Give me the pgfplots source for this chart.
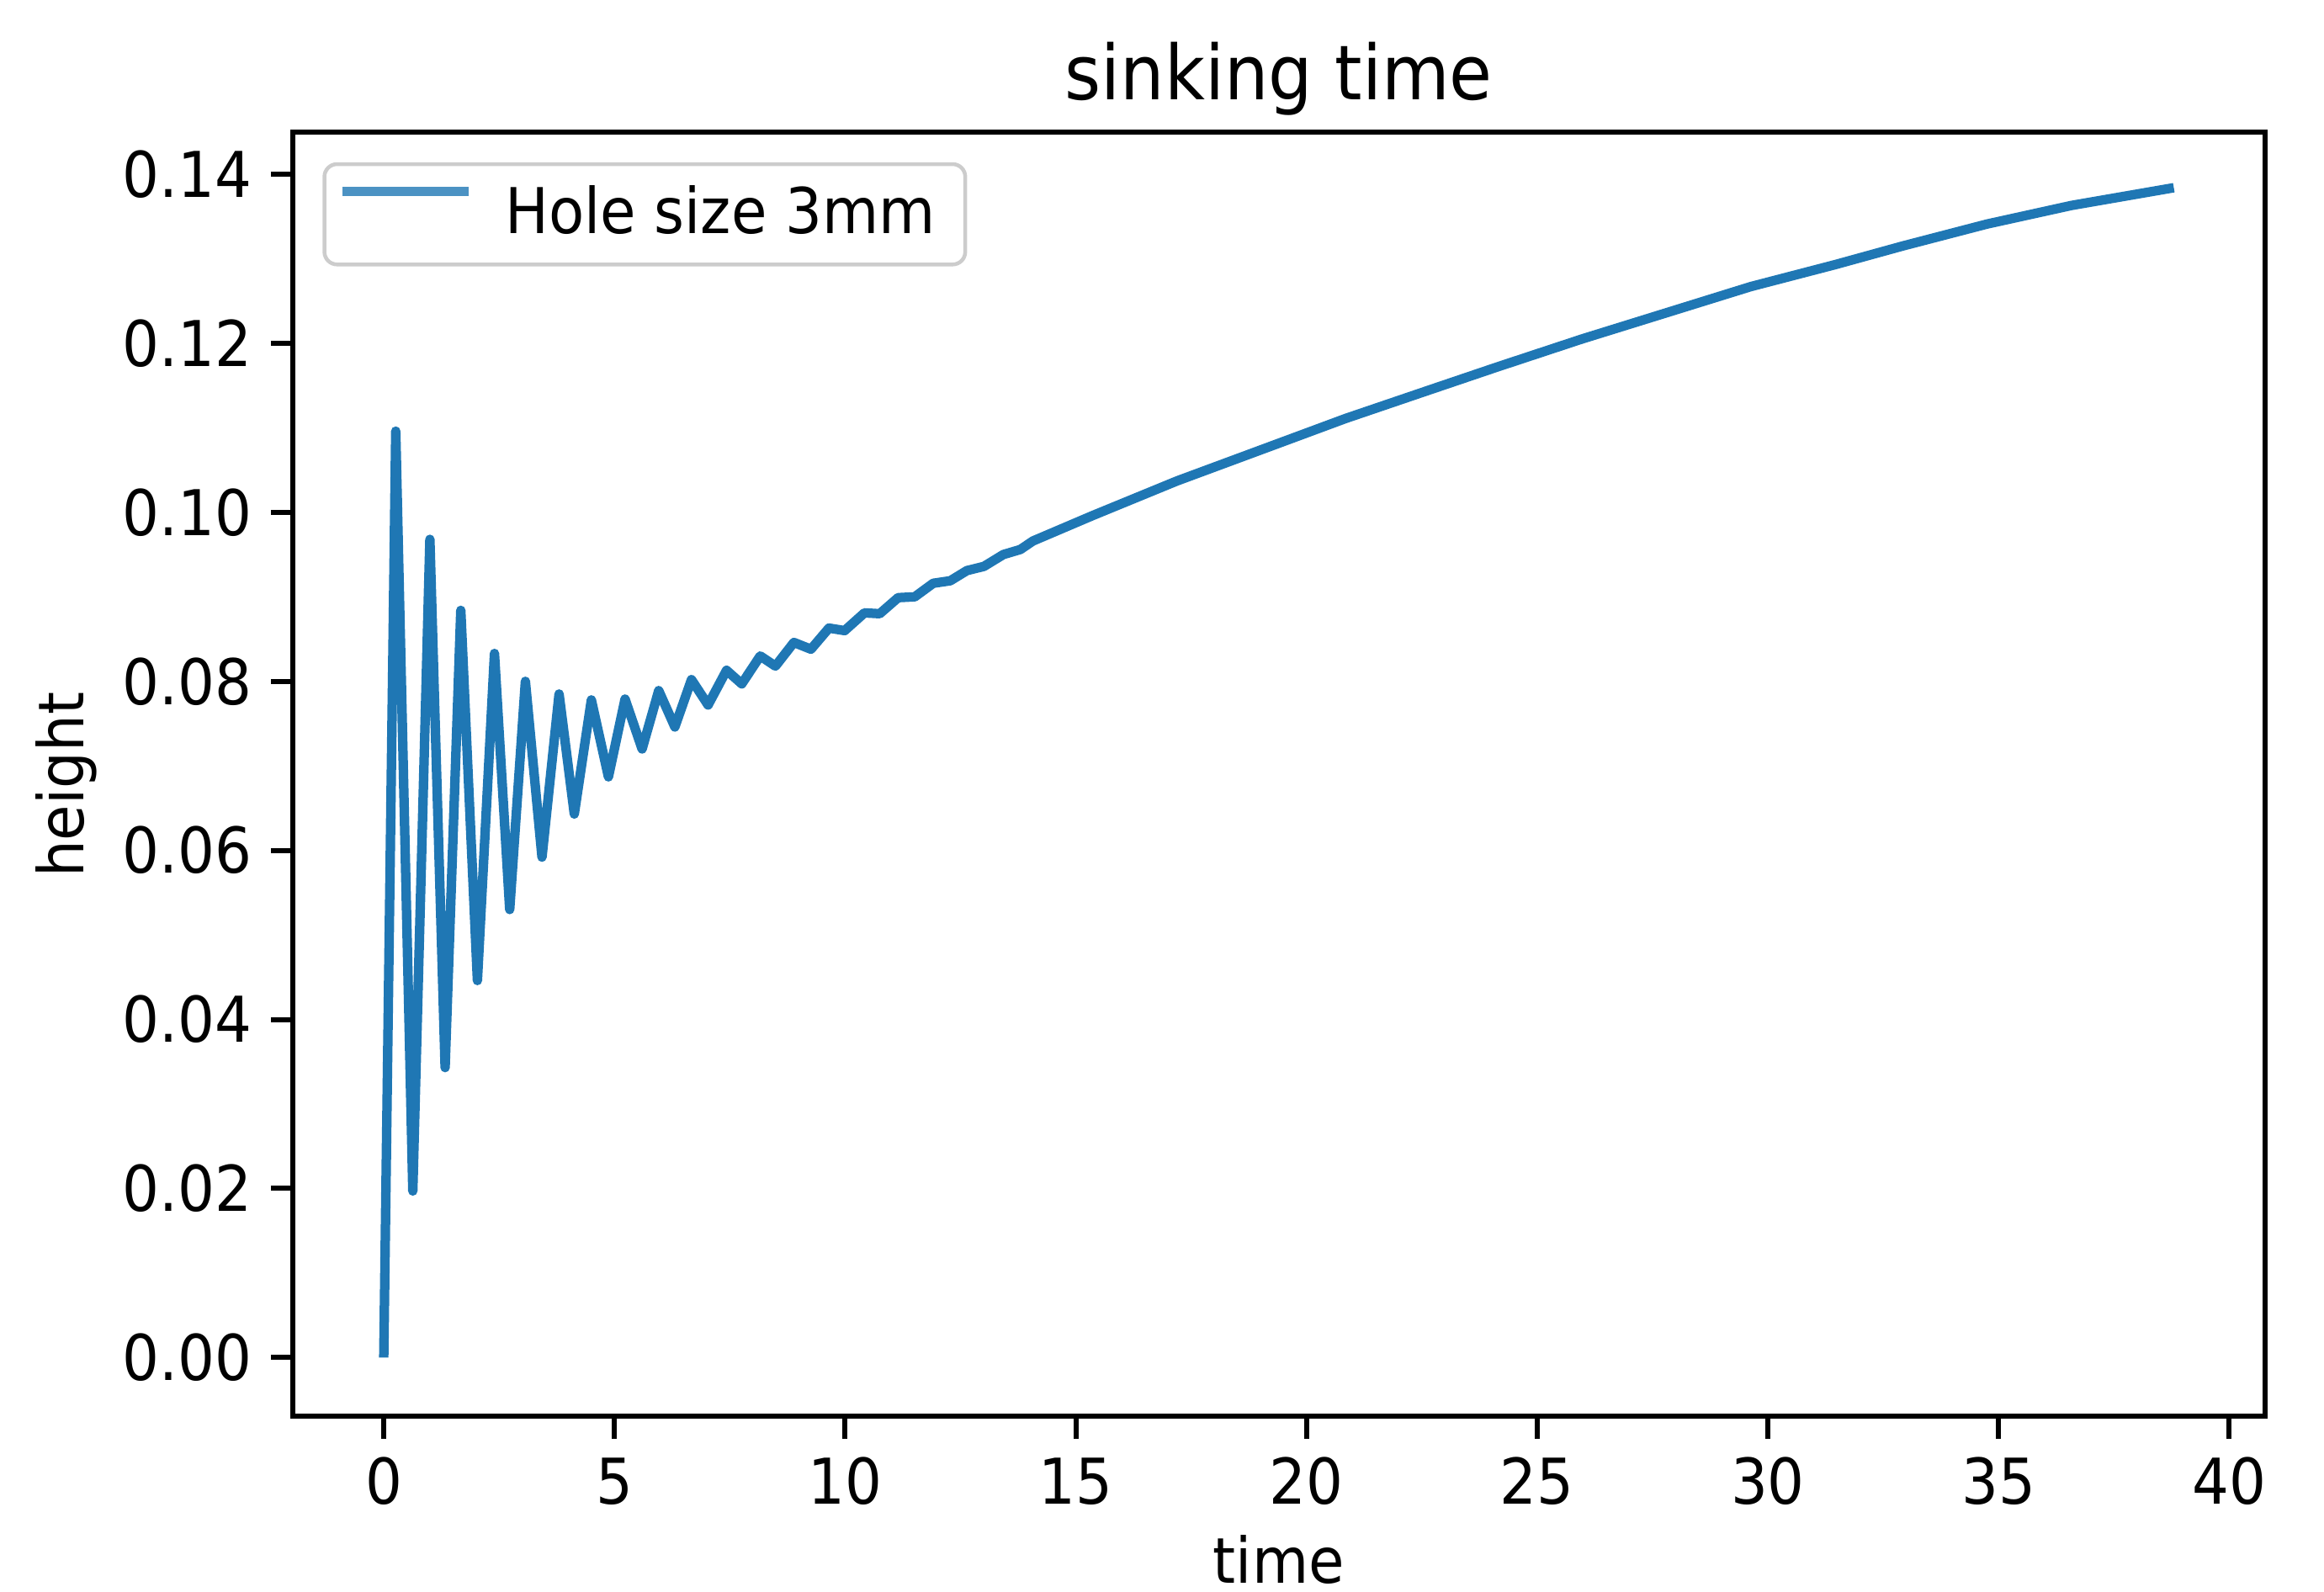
\documentclass[border=0pt]{standalone}
\usepackage{fontspec}
\setmainfont{DejaVu Sans}[FakeStretch=0.92]
\usepackage{pgfplots}
\pgfplotsset{compat=1.18}
\usetikzlibrary{calc}
\definecolor{tabblue}{HTML}{1F77B4}
\begin{document}
\begin{tikzpicture}
\begin{axis}[
  name=ax,
  scale only axis,
  width=312.4pt, height=203.5pt,
  xmin=-1.97, xmax=40.77,
  ymin=-0.00697, ymax=0.1450,
  xtick={0,5,10,15,20,25,30,35,40},
  ytick={0,0.02,0.04,0.06,0.08,0.10,0.12,0.14},
  tick pos=left,
  tick align=outside,
  major tick length=3.5pt,
  tick style={black, line width=0.8pt},
  axis line style={black, line width=0.8pt},
  /pgf/number format/assume math mode=true,
  ticklabel style={font=\fontsize{10}{12}\selectfont},
  xticklabel style={inner sep=0pt, anchor=base, yshift=-10.4pt},
  yticklabel style={inner sep=0pt, anchor=east, xshift=-2.8pt,
    /pgf/number format/.cd, fixed, fixed zerofill, precision=2},
  scaled y ticks=false,
  legend style={
    at={(axis description cs:0,1)}, anchor=north west,
    xshift=4.7pt, yshift=-4.8pt,
    draw=black!20, line width=0.6pt, rounded corners=2pt,
    inner xsep=2.1pt, inner ysep=3.4pt,
    font=\fontsize{10}{12}\selectfont,
    nodes={inner sep=0pt, text depth=1.5pt},
    column sep=5pt
  },
  legend image code/.code={
    \draw[#1, line width=1.5pt, line cap=butt] (0pt,3.65pt) -- (20pt,3.65pt);
  },
  legend image post style={opacity=0.8},
]
\addplot[tabblue, line width=1.5pt, line join=round] coordinates {
  (0,0) (0.26,0.1096) (0.63,0.0197) (1.00,0.0968) (1.33,0.0343)
  (1.67,0.0884) (2.03,0.0446) (2.40,0.0833) (2.73,0.0530) (3.07,0.0800)
  (3.43,0.0592) (3.80,0.0785) (4.13,0.0643) (4.50,0.0778) (4.87,0.0687)
  (5.23,0.0779) (5.60,0.0720) (5.96,0.0789) (6.31,0.0746) (6.67,0.0802)
  (7.03,0.0772) (7.43,0.0813) (7.76,0.0797) (8.16,0.0830) (8.49,0.0818)
  (8.89,0.0846) (9.26,0.0838) (9.65,0.0863) (9.99,0.0860) (10.42,0.0881)
  (10.75,0.0880) (11.15,0.0899) (11.51,0.0900) (11.91,0.0916) (12.28,0.0919)
  (12.64,0.0931) (13.01,0.0936) (13.43,0.0950) (13.80,0.0956) (14.07,0.0966)
  (15.36,0.0996) (17.19,0.1037) (19.02,0.1074) (20.85,0.1111) (22.68,0.1145)
  (24.14,0.1172) (25.97,0.1205) (27.80,0.1236) (29.63,0.1267) (31.46,0.1293)
  (32.92,0.1315) (34.75,0.1341) (36.58,0.1363) (38.80,0.1384)
};
\addlegendentry{Hole size 3mm\kern2.6pt}
\end{axis}
\node[anchor=base, font=\fontsize{12}{14}\selectfont] at ($(ax.north)+(0,5.1pt)$) {sinking time};
\node[anchor=base, font=\fontsize{10}{12}\selectfont] at ($(ax.south)+(0,-26.4pt)$) {time};
\node[rotate=90, anchor=base, font=\fontsize{10}{12}\selectfont] at ($(ax.west)+(-33.1pt,-1.7pt)$) {height};
\pgfresetboundingbox
\path[use as bounding box] ($(ax.south west)+(-46.4pt,-27.7pt)$) rectangle ($(ax.north east)+(9.4pt,20.9pt)$);
\end{tikzpicture}
\end{document}
